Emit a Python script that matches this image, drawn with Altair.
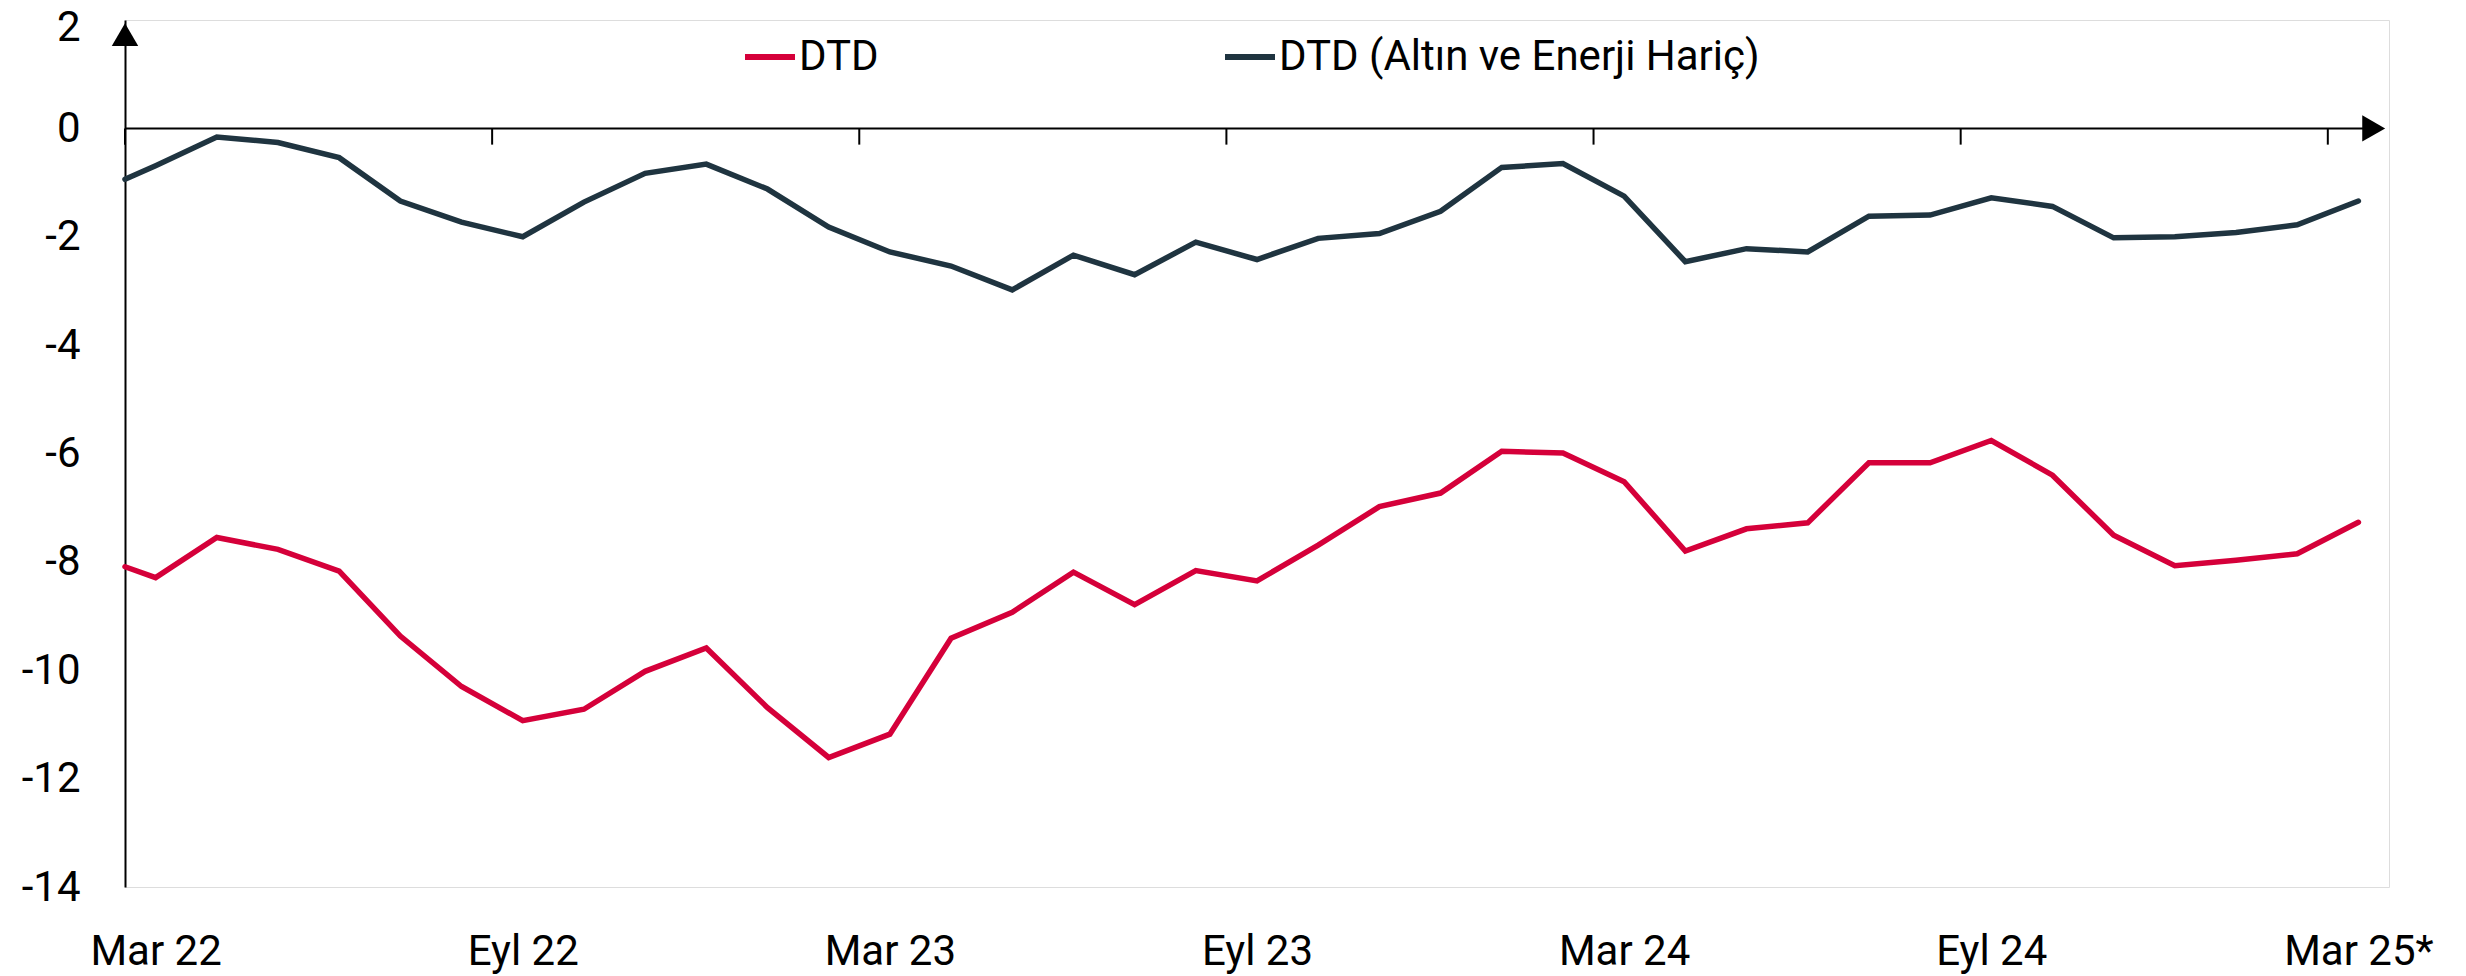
import altair as alt
import pandas as pd

# ---- data ----
series_names = ["DTD", "DTD (Altın ve Enerji Hariç)"]
series_colors = ["#D5003A", "#1F3440"]

# first value sits on the vertical axis, then one value per month (Mar 22 .. Mar 25)
dtd = [-8.09,
       -8.29, -7.55, -7.77, -8.17, -9.37, -10.30, -10.93, -10.72, -10.02, -9.59,
       -10.69, -11.61, -11.18, -9.41, -8.93, -8.19, -8.79, -8.16, -8.35, -7.69,
       -6.98, -6.73, -5.96, -5.99, -6.52, -7.80, -7.39, -7.28, -6.17, -6.17,
       -5.76, -6.40, -7.51, -8.07, -7.97, -7.85, -7.27]
dtd_ex = [-0.94,
          -0.69, -0.16, -0.26, -0.54, -1.34, -1.73, -2.00, -1.36, -0.83, -0.66,
          -1.12, -1.82, -2.28, -2.54, -2.98, -2.34, -2.70, -2.10, -2.42, -2.03,
          -1.94, -1.53, -0.72, -0.65, -1.25, -2.46, -2.22, -2.28, -1.62, -1.60,
          -1.28, -1.44, -2.02, -2.00, -1.92, -1.78, -1.34]

tick_labels = ["Mar 22", "Eyl 22", "Mar 23", "Eyl 23", "Mar 24", "Eyl 24", "Mar 25*"]
n_months = 37
tick_step = 6
y_ticks = [-14, -12, -10, -8, -6, -4, -2, 0, 2]

# ---- tables built from the lists ----
pos = [0.0] + [i + 0.5 for i in range(n_months)]
rows = []
for name, vals in zip(series_names, [dtd, dtd_ex]):
    for k, (p, v) in enumerate(zip(pos, vals)):
        rows.append({"x": p, "value": v, "series": name, "order": k})
df = pd.DataFrame(rows)

tick_pos = [i * tick_step for i in range(len(tick_labels))]
label_pos = [t + 0.5 for t in tick_pos]
ticks_df = pd.DataFrame({"x": tick_pos})

label_expr = "[" + ",".join("'" + t + "'" for t in tick_labels) + "][round((datum.value - 0.5) / %d)]" % tick_step

FONT = "Roboto"
FS = 42

x_scale = alt.Scale(domain=[0, n_months], nice=False, zero=False)
y_scale = alt.Scale(domain=[-14, 2], nice=False, zero=False)

lines = alt.Chart(df).mark_line(strokeWidth=5.5, strokeCap="round").encode(
    x=alt.X("x:Q", scale=x_scale, title=None,
            axis=alt.Axis(values=label_pos, labelExpr=label_expr, domain=False, ticks=False,
                          grid=False, labelFlush=False, labelFontSize=FS, labelFont=FONT,
                          labelColor="black", labelPadding=44)),
    y=alt.Y("value:Q", scale=y_scale, title=None,
            axis=alt.Axis(values=y_ticks, grid=False, ticks=False, domain=True,
                          domainColor="black", domainWidth=2, labelFontSize=FS,
                          labelFont=FONT, labelColor="black", labelPadding=45,
                          labelExpr="'' + datum.value",
                          labelOffset={"condition": {"test": "datum.value >= 2", "value": 7},
                                       "value": 0})),
    color=alt.Color("series:N", title=None,
                    scale=alt.Scale(domain=series_names, range=series_colors),
                    legend=alt.Legend(orient="none", legendX=617, legendY=9,
                                      direction="horizontal", symbolType="stroke",
                                      symbolSize=2500, symbolStrokeWidth=6,
                                      labelFontSize=FS, labelFont=FONT, labelColor="black",
                                      columnPadding=334, labelLimit=1000, labelOffset=1)),
    order="order:Q",
)

zero_line = alt.Chart(pd.DataFrame({"x0": [0], "x1": [36.6]})).mark_rule(
    color="black", strokeWidth=2).encode(
    x=alt.X("x0:Q", scale=x_scale), x2="x1", y=alt.datum(0))

tick_marks = alt.Chart(ticks_df).mark_rule(color="black", strokeWidth=2).encode(
    x=alt.X("x:Q", scale=x_scale), y=alt.datum(0), y2=alt.datum(-0.3))

arrow_right = alt.Chart(pd.DataFrame({"x": [36.75], "y": [0]})).mark_point(
    shape="triangle-right", filled=True, color="black", opacity=1, size=700).encode(
    x=alt.X("x:Q", scale=x_scale), y=alt.Y("y:Q", scale=y_scale))

arrow_up = alt.Chart(pd.DataFrame({"x": [0], "y": [1.73]})).mark_point(
    shape="triangle-up", filled=True, color="black", opacity=1, size=700).encode(
    x=alt.X("x:Q", scale=x_scale), y=alt.Y("y:Q", scale=y_scale))

chart = alt.layer(zero_line, tick_marks, lines, arrow_right, arrow_up).properties(
    width=2264, height=867,
    autosize=alt.AutoSizeParams(type="none"),
    padding={"left": 117, "top": 12, "right": 60, "bottom": 90},
).configure_view(stroke=None).configure(font=FONT)

chart.save("out.html", embed_options={"renderer": "svg", "actions": False})
